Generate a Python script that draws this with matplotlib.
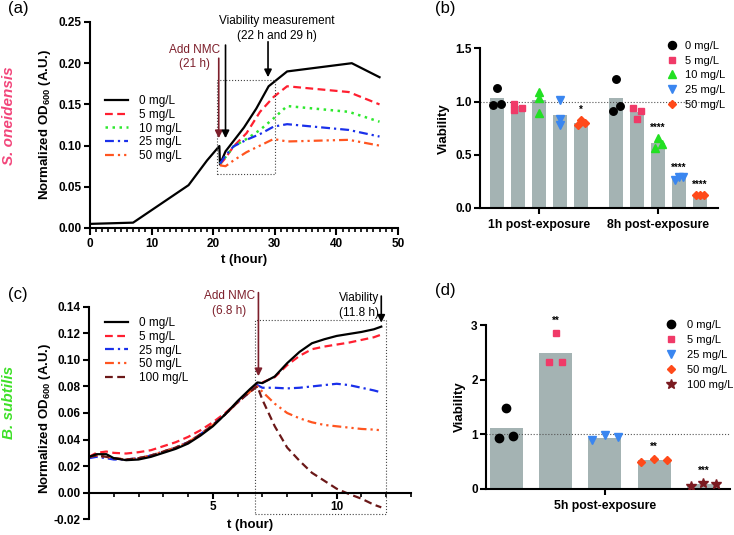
import numpy as np
import matplotlib
matplotlib.use('Agg')
import matplotlib.pyplot as plt
from matplotlib.lines import Line2D

plt.rcParams['font.family'] = ['Liberation Sans', 'DejaVu Sans']
plt.rcParams['mathtext.fontset'] = 'custom'
plt.rcParams['mathtext.rm'] = 'Liberation Sans:bold'
plt.rcParams['mathtext.bf'] = 'Liberation Sans:bold'

# ---- panel (a): S. oneidensis growth curves ----
t_a0 = [0, 7, 16, 19, 21, 21.1, 22, 25, 27, 29, 32, 42.5, 47]
od_a0 = [0.005, 0.0065, 0.052, 0.082, 0.0995, 0.077, 0.093, 0.122, 0.145, 0.172, 0.190, 0.200, 0.183]
t_a = [21.1, 22, 23.3, 25.4, 27.6, 29.8, 32, 42, 47]
od_a5 = [0.077, 0.085, 0.099, 0.115, 0.141, 0.159, 0.172, 0.165, 0.150]
od_a10 = [0.078, 0.086, 0.099, 0.108, 0.119, 0.133, 0.148, 0.141, 0.129]
od_a25 = [0.078, 0.088, 0.099, 0.107, 0.114, 0.123, 0.126, 0.119, 0.111]
od_a50 = [0.076, 0.075, 0.082, 0.092, 0.100, 0.108, 0.105, 0.107, 0.100]

# ---- panel (b): S. oneidensis viability ----
conc_b = ['0 mg/L', '5 mg/L', '10 mg/L', '25 mg/L', '50 mg/L']
bar_b_1h = [1.03, 0.96, 1.01, 0.87, 0.80]
bar_b_8h = [1.03, 0.90, 0.61, 0.28, 0.125]
pts_b_1h = [[0.97, 1.13, 0.98], [0.98, 0.92, 0.94], [1.09, 1.03, 0.895],
            [1.01, 0.84, 0.78], [0.78, 0.83, 0.80]]
pts_b_8h = [[0.91, 1.21, 0.96], [0.94, 0.84, 0.91], [0.56, 0.66, 0.60],
            [0.26, 0.29, 0.29], [0.12, 0.12, 0.12]]
sig_b_1h = ['', '', '', '', '*']
sig_b_8h = ['', '', '****', '****', '****']

# ---- panel (c): B. subtilis growth curves ----
t_c = [0, 0.3, 0.7, 1.0, 1.5, 2.0, 2.5, 3.0, 3.5, 4.0, 4.5, 5.0, 5.5, 6.0, 6.5, 6.8,
       7.0, 7.5, 8.0, 8.5, 9.0, 9.5, 10.0, 10.5, 11.0, 11.5, 11.8]
od_c0 = [0.027, 0.029, 0.029, 0.026, 0.0245, 0.025, 0.027, 0.030, 0.033, 0.037, 0.043, 0.050,
         0.059, 0.069, 0.078, 0.083, 0.0825, 0.0875, 0.0975, 0.106, 0.1125, 0.1155, 0.118,
         0.1195, 0.121, 0.123, 0.125]
od_c5 = [0.027, 0.030, 0.031, 0.030, 0.0295, 0.0305, 0.032, 0.035, 0.038, 0.042, 0.047, 0.053,
         0.060, 0.068, 0.077, 0.082, 0.083, 0.087, 0.096, 0.103, 0.108, 0.110, 0.1115,
         0.113, 0.115, 0.117, 0.119]
od_c25 = [0.026, 0.027, 0.026, 0.025, 0.025, 0.026, 0.028, 0.031, 0.034, 0.038, 0.044, 0.051,
          0.059, 0.068, 0.076, 0.081, 0.079, 0.079, 0.0785, 0.079, 0.080, 0.081, 0.082,
          0.081, 0.079, 0.077, 0.0755]
od_c50 = [0.027, 0.028, 0.027, 0.026, 0.025, 0.026, 0.028, 0.031, 0.034, 0.038, 0.044, 0.051,
          0.059, 0.068, 0.076, 0.080, 0.076, 0.067, 0.060, 0.056, 0.053, 0.051, 0.050,
          0.049, 0.048, 0.0475, 0.047]
od_c100 = [0.027, 0.028, 0.027, 0.026, 0.025, 0.026, 0.028, 0.031, 0.034, 0.038, 0.044, 0.051,
           0.059, 0.068, 0.076, 0.080, 0.070, 0.050, 0.034, 0.024, 0.015, 0.009, 0.003,
           -0.001, -0.0045, -0.009, -0.011]

# ---- panel (d): B. subtilis viability ----
conc_d = ['0 mg/L', '5 mg/L', '25 mg/L', '50 mg/L', '100 mg/L']
bar_d = [1.12, 2.49, 0.92, 0.525, 0.08]
pts_d = [[0.92, 1.47, 0.96], [2.32, 2.85, 2.32], [0.885, 0.98, 0.95],
         [0.49, 0.54, 0.525], [0.05, 0.11, 0.09]]
sig_d = ['', '**', '', '**', '***']

W, H = 734, 535
fig = plt.figure(figsize=(W / 100, H / 100), dpi=100)


def box(x0, y_top, x1, y_bot):
    return [x0 / W, 1 - y_bot / H, (x1 - x0) / W, (y_bot - y_top) / H]


dark_red = '#7d1f2b'
bar_col = '#a4b3b3'


def style_axes(ax):
    for s in ['top', 'right']:
        ax.spines[s].set_visible(False)
    for s in ['left', 'bottom']:
        ax.spines[s].set_linewidth(1.5)
    ax.tick_params(width=1.5, length=4, labelsize=8.5, pad=2)
    for lab in ax.get_xticklabels() + ax.get_yticklabels():
        lab.set_fontweight('bold')


# ================= (a) =================
ax = fig.add_axes(box(90, 22, 398, 228))
ax.plot(t_a0, od_a0, color='black', lw=1.6, label='0 mg/L')
ax.plot(t_a, od_a5, color='#ff1f30', lw=1.6, ls=(0, (3.5, 2)), label='5 mg/L')
ax.plot(t_a, od_a10, color='#2ee82e', lw=1.8, ls=(0, (1, 1.8)), label='10 mg/L')
ax.plot(t_a, od_a25, color='#1a30ea', lw=1.6, ls=(0, (4, 1.8, 1, 1.8)), label='25 mg/L')
ax.plot(t_a, od_a50, color='#ff5520', lw=1.6, ls=(0, (4, 1.8, 1, 1.8, 1, 1.8)), label='50 mg/L')
ax.set_xlim(0, 50)
ax.set_ylim(0, 0.25)
ax.set_xticks(range(0, 51, 10))
ax.set_xticks(range(0, 51, 1), minor=True)
ax.set_yticks([0, 0.05, 0.10, 0.15, 0.20, 0.25])
ax.set_yticklabels(['0.00', '0.05', '0.10', '0.15', '0.20', '0.25'])
style_axes(ax)
ax.tick_params(axis='x', which='minor', length=3, width=1.2)
ax.tick_params(axis='x', which='major', length=5)
ax.set_xlabel('t (hour)', fontsize=9.5, fontweight='bold', labelpad=3)
ax.plot([20.6, 30, 30, 20.6, 20.6], [0.066, 0.066, 0.18, 0.18, 0.066],
        ls=':', color='#444444', lw=0.8)
arr = dict(arrowstyle='-|>', lw=1.2, mutation_scale=11, shrinkA=0, shrinkB=0)
ax.annotate('', xy=(20.9, 0.109), xytext=(20.9, 0.206),
            arrowprops=dict(arr, color=dark_red), annotation_clip=False)
ax.annotate('', xy=(22, 0.109), xytext=(22, 0.222),
            arrowprops=dict(arr, color='black'), annotation_clip=False)
ax.annotate('', xy=(28.9, 0.183), xytext=(28.9, 0.226),
            arrowprops=dict(arr, color='black'), annotation_clip=False)
ax.text(17.0, 0.2075, 'Add NMC\n(21 h)', color=dark_red, fontsize=8.5,
        ha='center', va='center', linespacing=1.3)
ax.text(30.3, 0.242, 'Viability measurement\n(22 h and 29 h)', color='black',
        fontsize=8.5, ha='center', va='center', linespacing=1.3, clip_on=False)
ax.legend(loc='upper left', bbox_to_anchor=(105 / W, 1 - 95 / H),
          bbox_transform=fig.transFigure, frameon=False, fontsize=8.5,
          handlelength=1.95, handletextpad=0.9, labelspacing=0.15,
          borderpad=0, borderaxespad=0)
fig.text(45 / W, 1 - 124 / H, r'Normalized OD$_{600}$ (A.U.)', rotation=90,
         ha='center', va='center', fontsize=9.5, fontweight='bold')
fig.text(9 / W, 1 - 116 / H, 'S. oneidensis', rotation=90, ha='center', va='center',
         fontsize=11, fontweight='bold', style='italic', color='#f2457a')

# ================= bar panels =================
markers = ['o', 's', '^', 'v', 'D']
mcolors = ['black', '#f03a68', '#22e022', '#3a86f0', '#ff4a1a']
msizes = [5.4, 4.2, 5.4, 5.4, 3.6]


def bar_group(ax, xs, bars, pts, sigs, mks, cols, sizes, offs, sig_gap, width):
    ax.bar(xs, bars, width=width, color=bar_col, zorder=1)
    for i, x in enumerate(xs):
        ax.plot(np.array(offs[i]) + x, pts[i], ls='none', marker=mks[i],
                color=cols[i], ms=sizes[i], zorder=3)
        if sigs[i]:
            top = max(max(pts[i]), bars[i])
            ax.text(x, top + sig_gap, sigs[i], ha='center', va='center',
                    fontsize=7, fontweight='bold', clip_on=False)


# ================= (b) =================
ax = fig.add_axes(box(480, 48.3, 718, 208))
x1 = np.arange(5)
x8 = np.arange(5) + 5.67
off_1h = [[-0.17, 0, 0.17], [-0.17, -0.17, 0.17], [0, 0, 0], [0, 0, 0], [-0.16, 0, 0.19]]
off_8h = [[-0.17, 0, 0.17], [-0.19, 0, 0.17], [-0.17, 0, 0.17], [-0.19, 0, 0.17], [-0.19, 0, 0.16]]
ax.axhline(1.0, ls=':', color='#555555', lw=0.8, zorder=2)
bar_group(ax, x1, bar_b_1h, pts_b_1h, sig_b_1h, markers, mcolors, msizes, off_1h, 0.09, 0.67)
bar_group(ax, x8, bar_b_8h, pts_b_8h, sig_b_8h, markers, mcolors, msizes, off_8h, 0.09, 0.67)
ax.set_xlim(-0.81, 10.52)
ax.set_ylim(0, 1.5)
ax.set_yticks([0, 0.5, 1.0, 1.5])
ax.set_yticklabels(['0.0', '0.5', '1.0', '1.5'])
ax.set_xticks([2, 7.67])
ax.set_xticklabels(['1h post-exposure', '8h post-exposure'])
style_axes(ax)
ax.tick_params(axis='x', labelsize=8.8, pad=4)
ax.set_ylabel('Viability', fontsize=9.5, fontweight='bold', labelpad=4)
hb = [Line2D([], [], ls='none', marker=markers[i], color=mcolors[i], ms=msizes[i] + 0.4)
      for i in range(5)]
ax.legend(hb, conc_b, loc='upper left', bbox_to_anchor=(666 / W, 1 - 41 / H),
          bbox_transform=fig.transFigure, frameon=False, fontsize=8,
          handlelength=1.0, handletextpad=0.75, labelspacing=0.42,
          borderpad=0, borderaxespad=0)

# ================= (c) =================
ax = fig.add_axes(box(89, 306.7, 411, 519.3))
ax.plot(t_c, od_c0, color='black', lw=1.6, label='0 mg/L', zorder=5)
ax.plot(t_c, od_c5, color='#ff1f30', lw=1.6, ls=(0, (3.5, 2)), label='5 mg/L')
ax.plot(t_c, od_c25, color='#1a30ea', lw=1.6, ls=(0, (4, 1.8, 1, 1.8)), label='25 mg/L')
ax.plot(t_c, od_c50, color='#ff5520', lw=1.6, ls=(0, (4, 1.8, 1, 1.8, 1, 1.8)), label='50 mg/L')
ax.plot(t_c, od_c100, color='#6b1818', lw=1.6, ls=(0, (3.5, 2)), label='100 mg/L')
ax.set_xlim(0, 13)
ax.set_ylim(-0.02, 0.14)
ax.set_xticks([5, 10])
ax.set_xticks(range(0, 14), minor=True)
ax.set_yticks(np.arange(-0.02, 0.141, 0.02))
ax.set_yticklabels(['-0.02', '0.00', '0.02', '0.04', '0.06', '0.08', '0.10', '0.12', '0.14'])
ax.spines['bottom'].set_position(('data', 0))
style_axes(ax)
ax.tick_params(axis='x', which='minor', length=3, width=1.2)
ax.set_xlabel('t (hour)', fontsize=9.5, fontweight='bold', labelpad=4)
ax.plot([6.7, 12, 12, 6.7, 6.7], [-0.016, -0.016, 0.13, 0.13, -0.016],
        ls=':', color='#444444', lw=0.8, clip_on=False)
ax.annotate('', xy=(6.84, 0.0877), xytext=(6.84, 0.1506),
            arrowprops=dict(arr, color=dark_red), annotation_clip=False)
ax.annotate('', xy=(11.8, 0.128), xytext=(11.8, 0.148),
            arrowprops=dict(arr, color='black'), annotation_clip=False)
ax.text(5.67, 0.1425, 'Add NMC\n(6.8 h)', color=dark_red, fontsize=8.5,
        ha='center', va='center', linespacing=1.3, clip_on=False)
ax.text(10.9, 0.1410, 'Viability\n(11.8 h)', color='black', fontsize=8.5,
        ha='center', va='center', linespacing=1.3, clip_on=False)
ax.legend(loc='upper left', bbox_to_anchor=(105 / W, 1 - 317 / H),
          bbox_transform=fig.transFigure, frameon=False, fontsize=8.5,
          handlelength=1.95, handletextpad=0.9, labelspacing=0.15,
          borderpad=0, borderaxespad=0)
fig.text(45 / W, 1 - 418 / H, r'Normalized OD$_{600}$ (A.U.)', rotation=90,
         ha='center', va='center', fontsize=9.5, fontweight='bold')
fig.text(9 / W, 1 - 402 / H, 'B. subtilis', rotation=90, ha='center', va='center',
         fontsize=11, fontweight='bold', style='italic', color='#3ee028')

# ================= (d) =================
ax = fig.add_axes(box(486, 325, 730, 488.7))
markers_d = ['o', 's', 'v', 'D', '*']
mcolors_d = ['black', '#f03a68', '#3a86f0', '#ff4a1a', '#7a1a20']
msizes_d = [6.0, 4.6, 6.0, 4.0, 7.0]
xd = np.arange(5)
off_d = [[-0.14, 0, 0.14], [-0.14, 0, 0.14], [-0.26, 0, 0.26], [-0.27, 0, 0.27], [-0.26, 0, 0.26]]
ax.axhline(1.0, ls=':', color='#555555', lw=0.8, zorder=2)
bar_group(ax, xd, bar_d, pts_d, sig_d, markers_d, mcolors_d, msizes_d, off_d, 0.22, 0.67)
ax.set_xlim(-0.41, 4.54)
ax.set_ylim(0, 3)
ax.set_yticks([0, 1, 2, 3])
ax.set_xticks([2])
ax.set_xticklabels(['5h post-exposure'])
style_axes(ax)
ax.tick_params(axis='x', labelsize=8.8, pad=4)
ax.set_ylabel('Viability', fontsize=9.5, fontweight='bold', labelpad=4)
hd = [Line2D([], [], ls='none', marker=markers_d[i], color=mcolors_d[i], ms=msizes_d[i])
      for i in range(5)]
ax.legend(hd, conc_d, loc='upper left', bbox_to_anchor=(665 / W, 1 - 320 / H),
          bbox_transform=fig.transFigure, frameon=False, fontsize=8,
          handlelength=1.0, handletextpad=0.95, labelspacing=0.45,
          borderpad=0, borderaxespad=0)

# panel letters
for lab, x, y in [('(a)', 8, 9), ('(b)', 435, 9), ('(c)', 8, 294), ('(d)', 435, 291)]:
    fig.text(x / W, 1 - y / H, lab, fontsize=12, ha='left', va='center')

fig.savefig('out.png', dpi=100)
